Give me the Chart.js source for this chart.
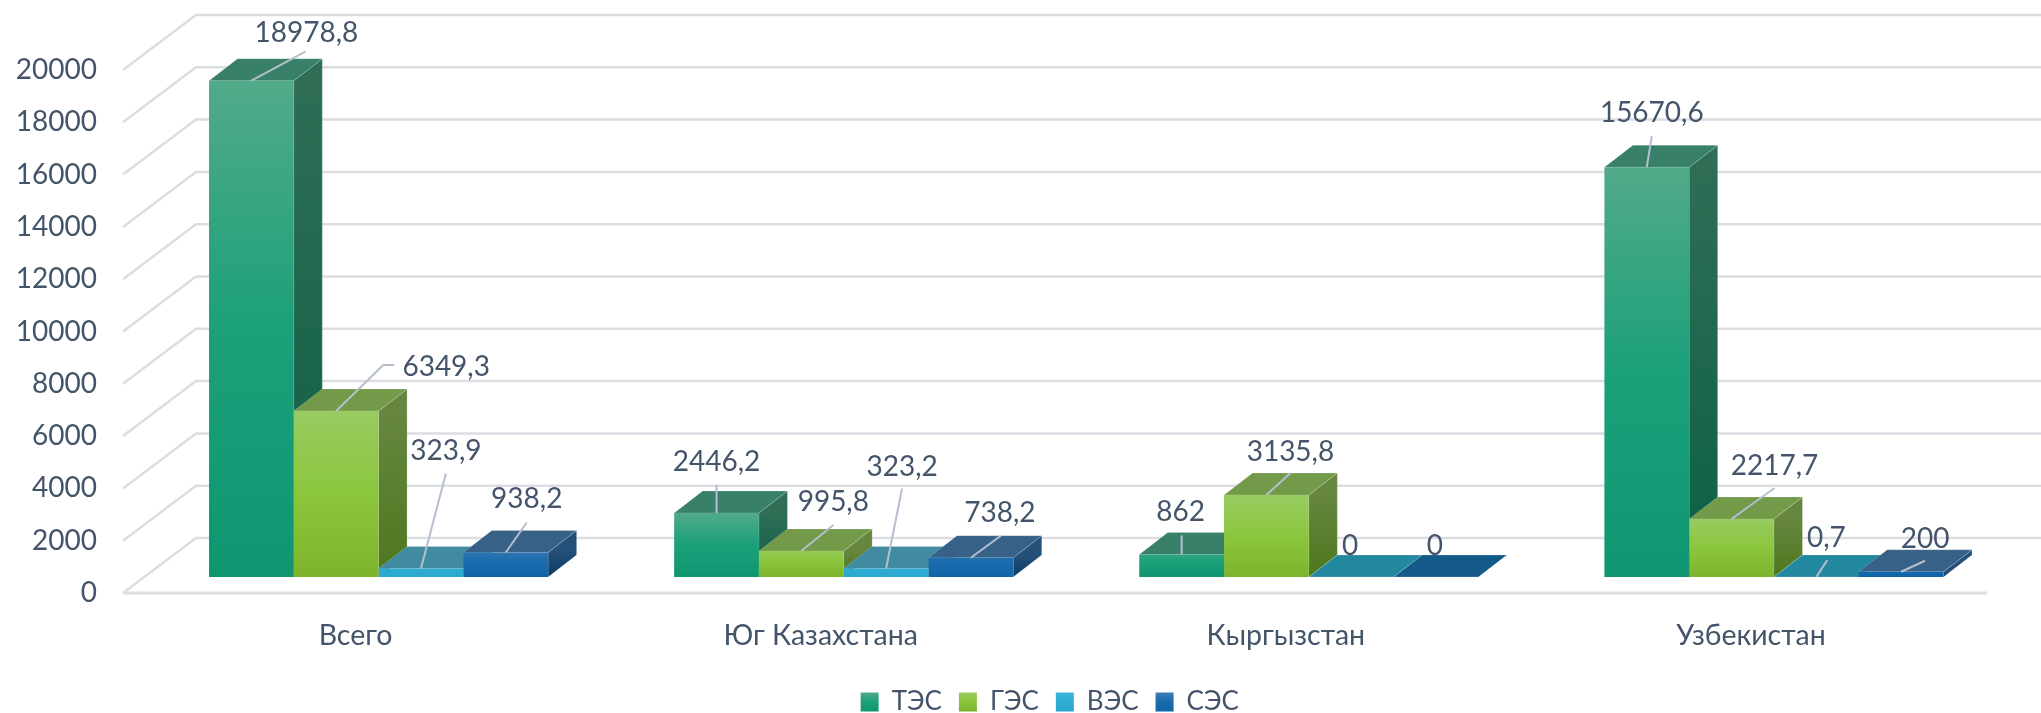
<!DOCTYPE html>
<html lang="ru">
<head>
    <meta charset="UTF-8">
    <title>Chart</title>
    <script src="https://cdn.jsdelivr.net/npm/chart.js@4/dist/chart.umd.min.js"></script>
    <style>
        body { margin: 0; background: #fff; }
        canvas { display: block; }
    </style>
</head>
<body>
<canvas id="myChart" width="2041" height="713"></canvas>
<script>
    // data
    var categories = ['Всего', 'Юг Казахстана', 'Кыргызстан', 'Узбекистан'];
    var seriesNames = ['ТЭС', 'ГЭС', 'ВЭС', 'СЭС'];
    var tes = [18978.8, 2446.2, 862, 15670.6];
    var ges = [6349.3, 995.8, 3135.8, 2217.7];
    var ves = [323.9, 323.2, 0, 0.7];
    var ses = [938.2, 738.2, 0, 200];
    var tickValues = [0, 2000, 4000, 6000, 8000, 10000, 12000, 14000, 16000, 18000, 20000];

    // colours per series: front top/mid/bottom, side top/bottom, roof, roof when the bar is flat
    var frontColors = [
        ['#52aa89', '#1ba07a', '#0f9670'],
        ['#98cb62', '#8cc63d', '#7eb42d'],
        ['#3bb6da', '#30aed6', '#2aa8d0'],
        ['#3f7db5', '#1a6cad', '#0e65a8']
    ];
    var sideColors = [
        ['#2f6d55', '#0b6046'],
        ['#66863f', '#4e771e'],
        ['#2b7f99', '#1b7088'],
        ['#234f78', '#093a63']
    ];
    var roofColors = ['#388068', '#739a49', '#418ba1', '#376187'];
    var flatRoofColors = ['#388068', '#739a49', '#21889f', '#145a88'];

    // label placement relative to the top of each bar: [labelDx, labelDy, leader points dx,dy...]
    var labelOffsets = [
        [[55, -48, 54, -29], [0, -51, 0, -28], [-1, -42, 0, -19], [5, -54, 5, -31]],
        [[110, -44, 47, -46, 58, -46], [32, -49, 32, -26], [24, -43, 24, -22], [43, -53, 43, -31]],
        [[25, -118, 25, -95], [16, -102, 16, -80], [-1, -31], [10, -39, 11, -17]],
        [[21, -53, 21, -30], [29, -45, 30, -22], [-1, -31], [24, -33, 24, -11]]
    ];

    var textColor = '#44546a';
    var gridColor = '#dcdde3';
    var leaderColor = '#b4bfcf';
    var edgeColor = 'rgba(255,255,255,0.18)';
    var fontFamily = 'Lato, "Open Sans", sans-serif';
    var fontSize = 28;

    // bars stand inside the floor, the back wall is further away
    var barShiftX = 23, barShiftY = -16;
    var depthX = 28.5, depthY = -22;
    var wallX = 73, wallY = -55;
    var floorOverhang = 3.5;

    function frontGradient(c, top, bottom, colors) {
        var g = c.createLinearGradient(0, top, 0, bottom);
        g.addColorStop(0, colors[0]);
        g.addColorStop(0.5, colors[1]);
        g.addColorStop(1, colors[2]);
        return g;
    }

    function sideGradient(c, top, bottom, colors) {
        var g = c.createLinearGradient(0, top, 0, bottom);
        g.addColorStop(0, colors[0]);
        g.addColorStop(1, colors[1]);
        return g;
    }

    function polygon(c, pts, fill) {
        c.beginPath();
        c.moveTo(pts[0][0], pts[0][1]);
        for (var i = 1; i < pts.length; i++) {
            c.lineTo(pts[i][0], pts[i][1]);
        }
        c.closePath();
        c.fillStyle = fill;
        c.fill();
        c.strokeStyle = edgeColor;
        c.lineWidth = 1;
        c.stroke();
    }

    var wallPlugin = {
        id: 'wall',
        afterLayout(chart) {
            // legend sits lower and further right than the default place
            chart.legend.left += 58;
            chart.legend.right += 58;
            chart.legend.top += 12;
            chart.legend.bottom += 12;
        },
        beforeDatasetsDraw(chart) {
            var c = chart.ctx;
            var y = chart.scales.y;
            var area = chart.chartArea;
            var wallRight = area.right + floorOverhang;
            c.save();
            c.strokeStyle = gridColor;
            c.lineWidth = 2.5;
            tickValues.forEach(function (v) {
                var py = y.getPixelForValue(v);
                c.beginPath();
                c.moveTo(area.left, py);
                c.lineTo(area.left + wallX, py + wallY);
                c.lineTo(wallRight + wallX, py + wallY);
                c.stroke();
            });
            // front edge of the floor
            c.lineWidth = 3;
            c.beginPath();
            c.moveTo(area.left, y.getPixelForValue(0));
            c.lineTo(wallRight, y.getPixelForValue(0));
            c.stroke();
            c.restore();

            // sides and roofs first, left to right, the fronts come over them
            c.save();
            c.translate(barShiftX, barShiftY);
            chart.data.datasets.forEach(function (ds, s) {
                chart.getDatasetMeta(s).data.forEach(function (el, i) {
                    var left = el.x - el.width / 2, right = el.x + el.width / 2;
                    polygon(c, [[right, el.y], [right + depthX, el.y + depthY], [right + depthX, el.base + depthY], [right, el.base]],
                        sideGradient(c, el.y, el.base, sideColors[s]));
                    polygon(c, [[left, el.y], [left + depthX, el.y + depthY], [right + depthX, el.y + depthY], [right, el.y]],
                        ds.data[i] < 10 ? flatRoofColors[s] : roofColors[s]);
                });
            });
            c.restore();
        },
        beforeDatasetDraw(chart) {
            chart.ctx.save();
            chart.ctx.translate(barShiftX, barShiftY);
        },
        afterDatasetDraw(chart) {
            chart.ctx.restore();
        }
    };

    var labelPlugin = {
        id: 'valueLabels',
        afterDatasetsDraw(chart) {
            var c = chart.ctx;
            c.save();
            c.font = fontSize + 'px ' + fontFamily;
            c.textAlign = 'center';
            c.textBaseline = 'middle';
            chart.data.datasets.forEach(function (ds, s) {
                chart.getDatasetMeta(s).data.forEach(function (el, i) {
                    var ax = el.x + barShiftX, ay = el.y + barShiftY;
                    var off = labelOffsets[s][i];
                    if (off.length > 2) {
                        c.strokeStyle = leaderColor;
                        c.lineWidth = 2;
                        c.beginPath();
                        c.moveTo(ax, ay);
                        for (var k = 2; k < off.length; k += 2) {
                            c.lineTo(ax + off[k], ay + off[k + 1]);
                        }
                        c.stroke();
                    }
                    c.fillStyle = textColor;
                    c.fillText(String(ds.data[i]).replace('.', ','), ax + off[0], ay + off[1]);
                });
            });
            c.restore();
        }
    };

    function makeDataset(name, values, s) {
        return {
            label: name,
            data: values,
            clip: false,
            borderWidth: 0,
            backgroundColor: function (ctx) {
                var chart = ctx.chart;
                if (!chart.scales.y || ctx.raw === undefined) {
                    return frontColors[s][1];
                }
                return frontGradient(chart.ctx, chart.scales.y.getPixelForValue(Math.max(ctx.raw, 1200)), chart.scales.y.getPixelForValue(0), frontColors[s]);
            }
        };
    }

    var ctx = document.getElementById('myChart');

    var myChart = new Chart(ctx, {
        type: 'bar',
        data: {
            labels: categories,
            datasets: [
                makeDataset(seriesNames[0], tes, 0),
                makeDataset(seriesNames[1], ges, 1),
                makeDataset(seriesNames[2], ves, 2),
                makeDataset(seriesNames[3], ses, 3)
            ]
        },
        plugins: [wallPlugin, labelPlugin],
        options: {
            responsive: false,
            animation: false,
            layout: {
                padding: { top: 70, right: 57.5, left: 0, bottom: 0 }
            },
            datasets: {
                bar: { categoryPercentage: 0.729, barPercentage: 1 }
            },
            plugins: {
                tooltip: { enabled: false },
                legend: {
                    position: 'bottom',
                    labels: {
                        color: textColor,
                        font: { family: fontFamily, size: 26 },
                        boxWidth: 18,
                        boxHeight: 19,
                        padding: 17,
                        generateLabels: function (chart) {
                            return seriesNames.map(function (name, s) {
                                return {
                                    text: name,
                                    fontColor: textColor,
                                    fillStyle: frontGradient(chart.ctx, 692, 711, frontColors[s]),
                                    lineWidth: 0,
                                    datasetIndex: s
                                };
                            });
                        }
                    }
                }
            },
            scales: {
                x: {
                    grid: { display: false },
                    border: { display: false },
                    afterFit: function (scale) {
                        scale.height = 120 - (scale.chart.legend ? scale.chart.legend.height : 0);
                    },
                    ticks: {
                        color: textColor,
                        padding: 18,
                        maxRotation: 0,
                        autoSkip: false,
                        font: { family: fontFamily, size: 28.5 }
                    }
                },
                y: {
                    min: 0,
                    max: 20000,
                    grid: { display: false },
                    border: { display: false },
                    afterFit: function (scale) {
                        scale.width = 123;
                    },
                    afterBuildTicks: function (scale) {
                        scale.ticks = tickValues.map(function (v) { return { value: v }; });
                    },
                    ticks: {
                        color: textColor,
                        padding: 18,
                        font: { family: fontFamily, size: fontSize },
                        callback: function (v) { return String(v); }
                    }
                }
            }
        }
    });
</script>
</body>
</html>
